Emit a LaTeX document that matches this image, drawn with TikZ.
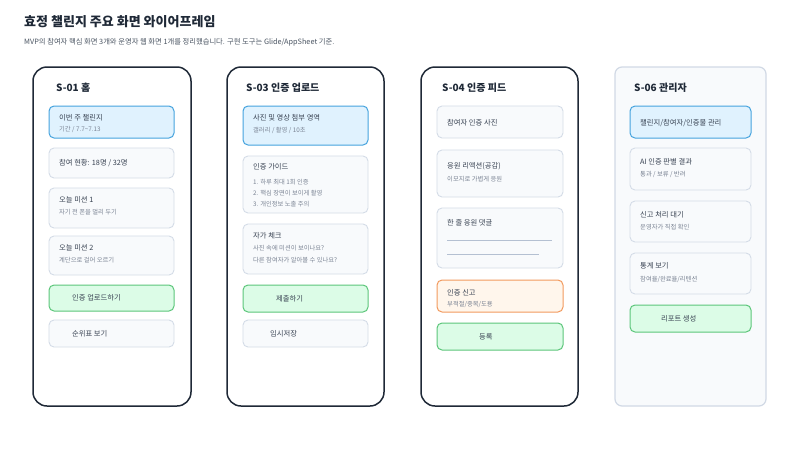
\documentclass[tikz,border=0pt]{standalone}
\usepackage{fontspec}
\setmainfont{Noto Sans CJK KR}
\definecolor{framec}{HTML}{1F2937}
\definecolor{cardfill}{HTML}{F8FAFC}
\definecolor{cardline}{HTML}{D4DCE7}
\definecolor{bluefill}{HTML}{E0F2FE}
\definecolor{blueline}{HTML}{45A3DE}
\definecolor{greenfill}{HTML}{DCFCE7}
\definecolor{greenline}{HTML}{5CC67A}
\definecolor{orangefill}{HTML}{FFF6EC}
\definecolor{orangeline}{HTML}{F29A5E}
\definecolor{txtA}{HTML}{374151}
\definecolor{txtB}{HTML}{7B8494}
\definecolor{titlec}{HTML}{1F2937}
\definecolor{subc}{HTML}{4B5563}
\definecolor{inputc}{HTML}{B4C0D2}
\definecolor{adminline}{HTML}{D1D9E5}
\tikzset{
  phone/.style={draw=framec, line width=1.5pt, fill=white, rounded corners=14pt},
  adminphone/.style={draw=adminline, line width=1.2pt, fill=cardfill, rounded corners=7pt},
  card/.style={draw=cardline, line width=0.9pt, fill=cardfill, rounded corners=5pt},
  bluecard/.style={draw=blueline, line width=1pt, fill=bluefill, rounded corners=5pt},
  greencard/.style={draw=greenline, line width=1pt, fill=greenfill, rounded corners=5pt},
  orangecard/.style={draw=orangeline, line width=1pt, fill=orangefill, rounded corners=5pt},
  hd/.style={anchor=west, inner sep=0pt, font=\fontsize{10}{12}\selectfont\bfseries, text=titlec},
  la/.style={anchor=west, inner sep=0pt, font=\fontsize{7.3}{9}\selectfont, text=txtA},
  lb/.style={anchor=west, inner sep=0pt, font=\fontsize{6.3}{8}\selectfont, text=txtB},
  inputline/.style={draw=inputc, line width=0.9pt}
}
\begin{document}
\begin{tikzpicture}[x=1pt,y=-1pt]
\useasboundingbox[fill=white] (0,0) rectangle (800,461);
% title
\node[anchor=west, inner sep=0pt, font=\fontsize{13}{15}\selectfont\bfseries, text=titlec] (title) at (24,22) {효정 챌린지 주요 화면 와이어프레임};
\node[anchor=west, inner sep=0pt, font=\fontsize{7.3}{9}\selectfont, text=subc] (subtitle) at (24,42) {MVP의 참여자 핵심 화면 3개와 운영자 웹 화면 1개를 정리했습니다. 구현 도구는 Glide/AppSheet 기준.};

% ---------- column 1 ----------
\draw[phone] (33,67) rectangle (191,406);
\node[hd] (h1) at (56,88) {S-01 홈};
\draw[bluecard] (49,106) rectangle (174,138);
\node[la] (a1) at (59,118) {이번 주 챌린지};
\node[lb] (a2) at (59,129) {기간 / 7.7{\char"7E}7.13};
\draw[card] (49,148) rectangle (174,178);
\node[la] (a3) at (59,163) {참여 현황: 18명 / 32명};
\draw[card] (49,188) rectangle (174,228);
\node[la] (a4) at (59,200) {오늘 미션 1};
\node[lb] (a5) at (59,212) {자기 전 폰을 멀리 두기};
\draw[card] (49,236) rectangle (174,275);
\node[la] (a6) at (59,248) {오늘 미션 2};
\node[lb] (a7) at (59,260) {계단으로 걸어 오르기};
\draw[greencard] (49,285) rectangle (174,311);
\node[la] (a8) at (72,298) {인증 업로드하기};
\draw[card] (49,320) rectangle (174,347);
\node[la] (a9) at (72,334) {순위표 보기};

% ---------- column 2 ----------
\draw[phone] (227,67) rectangle (384,406);
\node[hd] (h2) at (246,88) {S-03 인증 업로드};
\draw[bluecard] (243,106) rectangle (368,145);
\node[la] (b1) at (253,118) {사진 및 영상 첨부 영역};
\node[lb] (b2) at (253,130) {갤러리 / 촬영 / 10초};
\draw[card] (243,156) rectangle (368,213);
\node[la] (b3) at (253,167) {인증 가이드};
\node[lb] (b4) at (253,182) {1. 하루 최대 1회 인증};
\node[lb] (b5) at (253,193) {2. 핵심 장면이 보이게 촬영};
\node[lb] (b6) at (253,204) {3. 개인정보 노출 주의};
\draw[card] (243,224) rectangle (368,274);
\node[la] (b7) at (253,236) {자가 체크};
\node[lb] (b8) at (253,248) {사진 속에 미션이 보이나요?};
\node[lb] (b9) at (253,260) {다른 참여자가 알아볼 수 있나요?};
\draw[greencard] (243,285) rectangle (368,312);
\node[la] (b10) at (276,299) {제출하기};
\draw[card] (243,320) rectangle (368,347);
\node[la] (b11) at (270,334) {임시저장};

% ---------- column 3 ----------
\draw[phone] (421,67) rectangle (578,406);
\node[hd] (h3) at (442,88) {S-04 인증 피드};
\draw[card] (437,106) rectangle (563,138);
\node[la] (c1) at (447,123) {참여자 인증 사진};
\draw[card] (437,150) rectangle (563,197);
\node[la] (c2) at (447,166) {응원 리액션(공감)};
\node[lb] (c3) at (447,179) {이모지로 가볍게 응원};
\draw[card] (437,208) rectangle (563,268);
\node[la] (c4) at (447,223) {한 줄 응원 댓글};
\coordinate (l1a) at (447,240.5);
\coordinate (l1b) at (552,240.5);
\coordinate (l2a) at (447,254.5);
\coordinate (l2b) at (539,254.5);
\draw[inputline] (l1a) -- (l1b);
\draw[inputline] (l2a) -- (l2b);
\draw[orangecard] (437,280) rectangle (563,312);
\node[la] (c5) at (447,293) {인증 신고};
\node[lb] (c6) at (447,304) {부적절/중복/도용};
\draw[greencard] (437,323) rectangle (563,350);
\node[la] (c7) at (479,337) {등록};

% ---------- column 4 ----------
\draw[adminphone] (615,67) rectangle (766,406);
\node[hd] (h4) at (634,88) {S-06 관리자};
\draw[bluecard] (630,106) rectangle (751,138);
\node[la] (d1) at (640,123) {챌린지/참여자/인증물 관리};
\draw[card] (630,148) rectangle (751,190);
\node[la] (d2) at (640,162) {AI 인증 판별 결과};
\node[lb] (d3) at (640,174) {통과 / 보류 / 반려};
\draw[card] (630,201) rectangle (751,242);
\node[la] (d4) at (640,215) {신고 처리 대기};
\node[lb] (d5) at (640,227) {운영자가 직접 확인};
\draw[card] (630,253) rectangle (751,294);
\node[la] (d6) at (640,266) {통계 보기};
\node[lb] (d7) at (640,279) {참여율/완료율/리텐션};
\draw[greencard] (630,305) rectangle (751,332);
\node[la] (d8) at (661,319) {리포트 생성};
\end{tikzpicture}
\end{document}
